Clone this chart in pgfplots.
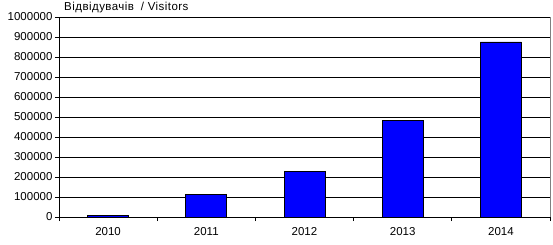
\documentclass[border=0pt]{standalone}
\usepackage{pgfplots}
\pgfplotsset{compat=1.18}
\usepackage{fontspec}
\setmainfont{Liberation Sans}
\begin{document}
\begin{tikzpicture}
\path[use as bounding box] (-59pt,-27pt) rectangle (494pt,217pt);
\begin{axis}[
  at={(0,0)}, anchor=south west,
  scale only axis, width=491pt, height=200pt,
  ybar, bar width=41pt,
  xmin=-0.5, xmax=4.5, ymin=0, ymax=1000000,
  axis x line*=bottom, axis y line*=left,
  axis line style={black, line width=0.8pt, -},
  xtick={0,1,2,3,4}, xticklabels={2010,2011,2012,2013,2014},
  major x tick style={draw=none},
  minor xtick={-0.5,0.5,1.5,2.5,3.5,4.5},
  minor x tick style={black, line width=0.8pt},
  tick align=outside,
  major tick length=4pt, minor tick length=4pt,
  ytick={0,100000,...,1000000},
  y tick style={black, line width=0.8pt},
  ymajorgrids, grid style={black, line width=0.8pt},
  scaled y ticks=false,
  /pgf/number format/assume math mode=true,
  /pgf/number format/1000 sep={},
  /pgf/number format/fixed,
  tick label style={font=\fontsize{11.5}{13}\selectfont},
  yticklabel style={xshift=1pt},
  xticklabel style={yshift=-3pt},
  clip=false,
]
\addplot[fill={rgb,255:red,0;green,0;blue,255}, draw=black, line width=0.8pt]
  coordinates {(0,6000) (1,115000) (2,230000) (3,484000) (4,875000)};
\draw[gray, line width=0.8pt] (rel axis cs:1,0) -- (rel axis cs:1,1);
\node[anchor=west, font=\fontsize{11.5}{13}\selectfont, inner sep=0pt] at ([xshift=5pt,yshift=9pt]rel axis cs:0,1) {\addfontfeature{LetterSpace=4}Відвідувачів \;/ Visitors};
\end{axis}
\end{tikzpicture}
\end{document}
